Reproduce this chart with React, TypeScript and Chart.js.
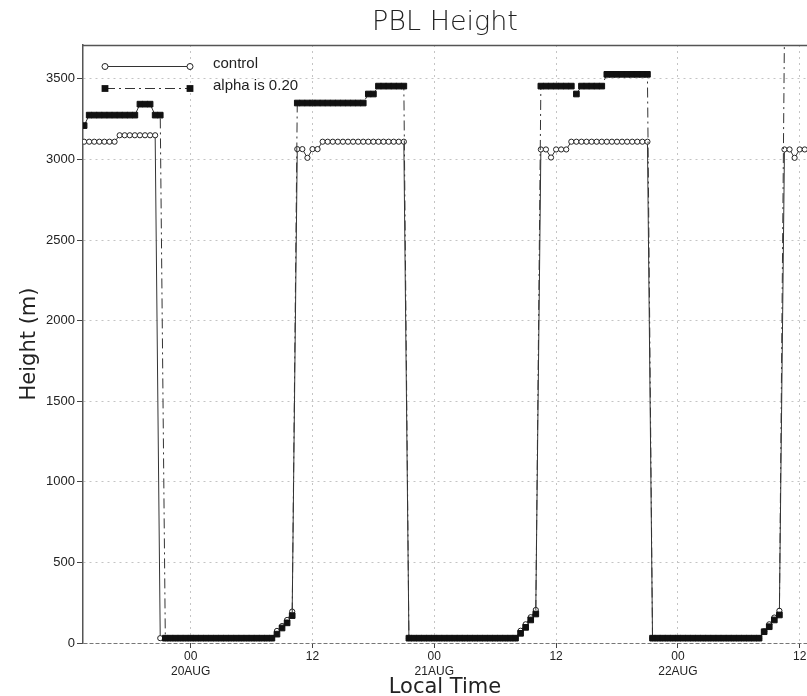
import React, { useEffect, useRef } from 'react';
import { Chart, registerables } from 'chart.js';

Chart.register(...registerables);

// Time axis: hours relative to 20AUG 00 local time, half-hourly samples
const startHour = -10.5;
const stepHours = 0.5;

// PBL height (m), "control" run
const controlHeights = [
  3110, 3110, 3110, 3110, 3110, 3110, 3110,
  3150, 3150, 3150, 3150, 3150, 3150, 3150, 3150,
  30, 30, 30, 30, 30, 30, 30, 30, 30, 30, 30, 30, 30, 30, 30, 30, 30, 30, 30, 30, 30, 30, 30,
  75, 105, 143, 195,
  3064, 3064, 3010, 3064, 3064,
  3110, 3110, 3110, 3110, 3110, 3110, 3110, 3110, 3110, 3110, 3110, 3110, 3110, 3110, 3110, 3110, 3110,
  30, 30, 30, 30, 30, 30, 30, 30, 30, 30, 30, 30, 30, 30, 30, 30, 30, 30, 30, 30, 30, 30,
  76, 116, 160, 205,
  3062, 3062, 3012, 3062, 3062, 3062,
  3110, 3110, 3110, 3110, 3110, 3110, 3110, 3110, 3110, 3110, 3110, 3110, 3110, 3110, 3110, 3110,
  30, 30, 30, 30, 30, 30, 30, 30, 30, 30, 30, 30, 30, 30, 30, 30, 30, 30, 30, 30, 30, 30,
  72, 116, 158, 200,
  3062, 3062, 3010, 3062, 3062,
];

// PBL height (m), "alpha is 0.20" run
const alphaHeights = [
  3210,
  3275, 3275, 3275, 3275, 3275, 3275, 3275, 3275, 3275, 3275,
  3343, 3343, 3343,
  3275, 3275,
  30, 30, 30, 30, 30, 30, 30, 30, 30, 30, 30, 30, 30, 30, 30, 30, 30, 30, 30, 30, 30, 30,
  55, 93, 125, 170,
  3350, 3350, 3350, 3350, 3350, 3350, 3350, 3350, 3350, 3350, 3350, 3350, 3350, 3350,
  3406, 3406,
  3455, 3455, 3455, 3455, 3455, 3455,
  30, 30, 30, 30, 30, 30, 30, 30, 30, 30, 30, 30, 30, 30, 30, 30, 30, 30, 30, 30, 30, 30,
  60, 97, 143, 180,
  3455, 3455, 3455, 3455, 3455, 3455, 3455,
  3406,
  3455, 3455, 3455, 3455, 3455,
  3528, 3528, 3528, 3528, 3528, 3528, 3528, 3528, 3528,
  30, 30, 30, 30, 30, 30, 30, 30, 30, 30, 30, 30, 30, 30, 30, 30, 30, 30, 30, 30, 30, 30,
  70, 101, 143, 174,
  3800, 3800, 3800, 3800, 3800,
];

const seriesNames = ['control', 'alpha is 0.20'];

const xTickHours = [0, 12, 24, 36, 48, 60];
const xTickLabels: (string | string[])[] = [
  ['00', '20AUG'], '12', ['00', '21AUG'], '12', ['00', '22AUG'], '12',
];
const yTickValues = [0, 500, 1000, 1500, 2000, 2500, 3000, 3500];
const xMin = -10.61;
const xMax = 60.72;
const yMin = 0;
const yMax = 3710;

export default function App() {
  const ref = useRef<HTMLCanvasElement>(null);

  useEffect(() => {
    const canvas = ref.current;
    if (!canvas) return;
    const times = controlHeights.map((_, i) => startHour + i * stepHours);
    const ctrlData = controlHeights.map((v, i) => ({ x: times[i], y: v }));
    const alphaData = alphaHeights.map((v, i) => ({ x: times[i], y: v }));

    const framePlugin = {
      id: 'frameTop',
      afterDraw(chart: any) {
        const { ctx, chartArea } = chart;
        ctx.save();
        ctx.strokeStyle = '#555';
        ctx.lineWidth = 1.5;
        ctx.beginPath();
        ctx.moveTo(chartArea.left, chartArea.top + 0.5);
        ctx.lineTo(chartArea.right, chartArea.top + 0.5);
        ctx.stroke();
        ctx.restore();
      },
    };

    const legendPlugin = {
      id: 'pblLegend',
      afterDraw(chart: any) {
        const { ctx, chartArea } = chart;
        const xa = chartArea.left + 22;
        const xb = chartArea.left + 107;
        const ya = chartArea.top + 21.5;
        const yb = chartArea.top + 43.5;
        const tx = chartArea.left + 130;
        ctx.save();
        ctx.strokeStyle = '#333';
        ctx.lineWidth = 1;
        ctx.setLineDash([]);
        ctx.beginPath();
        ctx.moveTo(xa, ya);
        ctx.lineTo(xb, ya);
        ctx.stroke();
        for (const x of [xa, xb]) {
          ctx.beginPath();
          ctx.arc(x, ya, 3, 0, Math.PI * 2);
          ctx.fillStyle = '#fff';
          ctx.fill();
          ctx.strokeStyle = '#222';
          ctx.stroke();
        }
        ctx.strokeStyle = '#333';
        ctx.setLineDash([10, 4, 2, 4]);
        ctx.beginPath();
        ctx.moveTo(xa, yb);
        ctx.lineTo(xb, yb);
        ctx.stroke();
        ctx.setLineDash([]);
        ctx.fillStyle = '#111';
        for (const x of [xa, xb]) {
          ctx.fillRect(x - 3.4, yb - 3.4, 6.8, 6.8);
        }
        ctx.fillStyle = '#222';
        ctx.font = '15px "Liberation Sans"';
        ctx.textBaseline = 'middle';
        ctx.textAlign = 'left';
        ctx.fillText(seriesNames[0], tx, chartArea.top + 18.5);
        ctx.fillText(seriesNames[1], tx, chartArea.top + 40.5);
        ctx.restore();
      },
    };

    const chart = new Chart(canvas, {
      type: 'line',
      data: {
        datasets: [
          {
            label: seriesNames[0],
            data: ctrlData,
            borderColor: '#333',
            borderWidth: 1,
            pointStyle: 'circle',
            pointRadius: 2.6,
            pointBackgroundColor: '#fff',
            pointBorderColor: '#222',
            pointBorderWidth: 1,
            tension: 0,
            order: 2,
          },
          {
            label: seriesNames[1],
            data: alphaData,
            borderColor: '#333',
            borderWidth: 1,
            borderDash: [10, 4, 2, 4],
            pointStyle: 'rect',
            pointRadius: 4,
            pointBackgroundColor: '#111',
            pointBorderColor: '#111',
            pointBorderWidth: 1,
            tension: 0,
            order: 1,
          },
        ],
      },
      options: {
        responsive: false,
        animation: false,
        events: [],
        layout: { padding: 0, autoPadding: false },
        plugins: {
          legend: { display: false },
          tooltip: { enabled: false },
          title: {
            display: true,
            text: 'PBL Height',
            fullSize: false,
            color: '#222',
            font: { family: 'DejaVu Sans', size: 27, weight: '200' as any },
            padding: { top: 7, bottom: 5.6 },
          },
        },
        scales: {
          x: {
            type: 'linear',
            min: xMin,
            max: xMax,
            afterBuildTicks: (s: any) => {
              s.ticks = xTickHours.map((v) => ({ value: v }));
            },
            ticks: {
              autoSkip: false,
              maxRotation: 0,
              minRotation: 0,
              color: '#222',
              padding: 1,
              font: { family: 'Liberation Sans', size: 12, lineHeight: 1.25 },
              callback: (v: any) => {
                const k = xTickHours.indexOf(Number(v));
                return k >= 0 ? xTickLabels[k] : '';
              },
            },
            grid: { color: '#c4c4c4', lineWidth: 1, tickColor: '#444', tickLength: 5 },
            border: { display: false, dash: [2, 4] },
            title: {
              display: true,
              text: 'Local Time',
              color: '#222',
              font: { family: 'DejaVu Sans', size: 21, lineHeight: 1 },
              padding: { top: 0, bottom: -2 },
            },
            afterFit: (s: any) => {
              s.height = 53;
              s.paddingLeft = 0;
              s.paddingRight = 0;
            },
          },
          y: {
            type: 'linear',
            min: yMin,
            max: yMax,
            afterBuildTicks: (s: any) => {
              s.ticks = yTickValues.map((v) => ({ value: v }));
            },
            ticks: {
              color: '#222',
              padding: 2,
              font: { family: 'Liberation Sans', size: 13 },
              callback: (v: any) => String(v),
            },
            grid: {
              color: (c: any) => (c.tick && c.tick.value === 0 ? '#777' : '#c4c4c4'),
              lineWidth: 1,
              tickColor: '#444',
              tickLength: 6,
            },
            border: {
              display: true,
              color: '#555',
              width: 1.5,
              dash: ((c: any) => (c.tick && c.tick.value === 0 ? [4, 2] : [2, 4])) as any,
            },
            title: {
              display: true,
              text: 'Height (m)',
              color: '#222',
              font: { family: 'DejaVu Sans', size: 21 },
              padding: { top: 17, bottom: 0 },
            },
            afterFit: (s: any) => {
              s.width = 83;
            },
          },
        },
      },
      plugins: [framePlugin, legendPlugin],
    });
    return () => chart.destroy();
  }, []);

  return (
    <canvas
      ref={ref}
      width={807}
      height={696}
      style={{ position: 'fixed', left: 0, top: 0, width: 807, height: 696 }}
    />
  );
}
